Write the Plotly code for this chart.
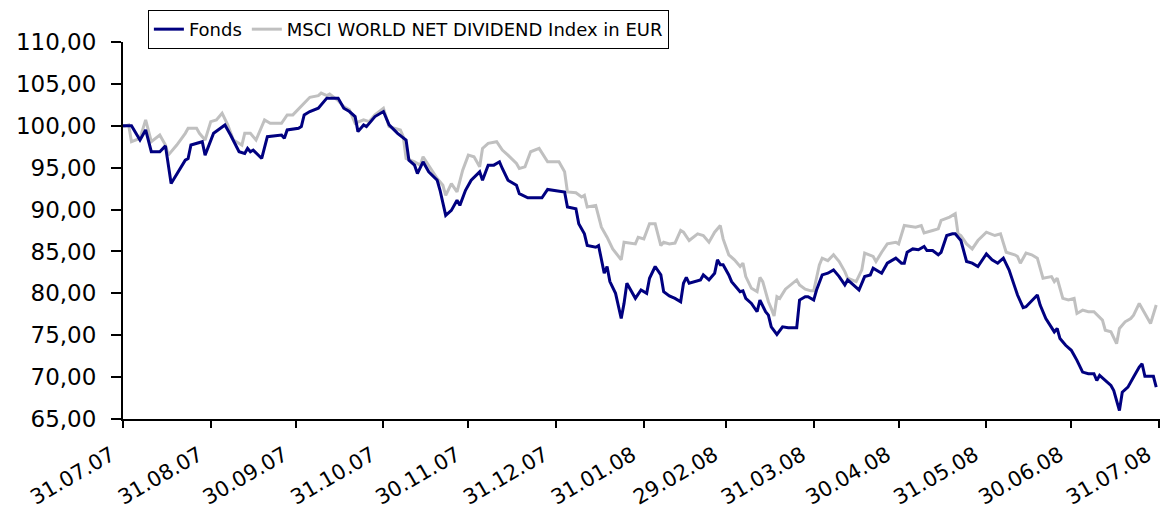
import pandas as pd
import plotly.graph_objects as go

start_date = "2007-07-31"

# Fonds: days after start, value
fonds_days = [0, 3, 6, 8, 10, 13, 15, 17, 22, 23, 24, 26, 28, 29, 32, 36, 38, 41, 43, 44, 45, 46, 49, 51,
              56, 57, 58, 62, 63, 64, 66, 69, 70, 72, 76, 78, 80, 82, 83, 85, 86, 89, 92, 94, 97, 100,
              101, 103, 104, 106, 108, 111, 112, 113, 114, 116, 118, 119, 121, 123, 125, 126, 127, 129,
              131, 133, 134, 136, 139, 140, 143, 148, 150, 154, 156, 157, 160, 161, 163, 164, 167, 168,
              170, 171, 172, 174, 176, 177, 178, 181, 183, 185, 186, 188, 190, 191, 193, 195, 197, 198,
              199, 200, 202, 204, 205, 207, 209, 210, 211, 212, 214, 215, 218, 219, 220, 222, 224, 225,
              227, 228, 229, 231, 233, 235, 238, 239, 241, 242, 244, 245, 247, 249, 251, 253, 255, 256,
              258, 260, 262, 264, 265, 268, 270, 272, 273, 275, 276, 277, 279, 281, 283, 284, 286, 288,
              289, 291, 293, 294, 296, 298, 300, 302, 305, 307, 309, 311, 313, 315, 316, 318, 319, 323,
              324, 326, 328, 329, 330, 331, 333, 335, 336, 337, 339, 341, 343, 344, 345, 347, 349, 350,
              352, 353, 355, 357, 359, 360, 361, 364, 365]
fonds_values = [100.0, 100.0, 98.3, 99.5, 96.9, 96.9, 97.6, 93.1, 95.9, 96.1, 97.7, 97.9, 98.1, 96.5, 99.1,
                100.1, 98.9, 96.9, 96.7, 97.3, 96.9, 97.1, 96.1, 98.7, 98.9, 98.5, 99.5, 99.7, 99.9, 101.3,
                101.7, 102.1, 102.5, 103.3, 103.3, 102.1, 101.7, 101.1, 99.3, 100.1, 99.9, 101.1, 101.7,
                100.1, 99.1, 98.3, 95.9, 95.3, 94.3, 95.7, 94.5, 93.5, 92.3, 90.9, 89.3, 89.9, 91.1, 90.5,
                92.3, 93.5, 94.1, 94.5, 93.5, 95.3, 95.3, 95.7, 94.9, 93.5, 92.9, 91.9, 91.4, 91.4, 92.4,
                92.2, 92.1, 90.3, 90.1, 88.3, 87.1, 85.7, 85.5, 85.7, 82.4, 83.2, 81.4, 80.0, 77.0, 78.8,
                81.2, 79.4, 80.4, 80.0, 81.8, 83.2, 82.2, 80.2, 79.7, 79.4, 79.0, 81.2, 81.9, 81.2, 81.4,
                81.6, 82.2, 81.6, 82.4, 84.0, 83.4, 83.4, 82.2, 81.4, 80.2, 80.3, 79.4, 78.8, 77.8, 79.2,
                77.8, 77.4, 76.0, 75.1, 76.0, 75.9, 75.9, 79.2, 79.6, 79.6, 79.2, 80.4, 82.2, 82.4, 82.8,
                82.0, 81.0, 81.6, 81.0, 80.4, 82.0, 82.2, 83.0, 82.4, 83.6, 84.0, 84.2, 83.6, 83.6, 84.9,
                85.3, 85.2, 85.6, 85.1, 85.1, 84.6, 84.9, 86.9, 87.1, 87.1, 86.3, 83.8, 83.6, 83.2, 84.7,
                84.0, 83.6, 84.2, 82.8, 80.8, 79.8, 78.3, 78.4, 79.8, 78.6, 77.0, 76.0, 75.4, 75.8, 74.6,
                73.8, 73.2, 72.6, 72.0, 70.6, 70.4, 70.4, 69.6, 70.2, 69.6, 69.0, 68.4, 66.0, 68.2, 68.8,
                70.0, 71.2, 71.6, 70.1, 70.1, 68.8]

# MSCI World Net Dividend Index in EUR: days after start, value
msci_days = [0, 2, 3, 6, 8, 10, 13, 15, 16, 19, 22, 23, 26, 27, 29, 31, 33, 35, 37, 39, 42, 43, 45, 47,
             50, 52, 56, 58, 60, 63, 66, 69, 70, 72, 73, 76, 78, 80, 82, 85, 87, 89, 92, 94, 98, 99, 100,
             103, 105, 106, 109, 111, 113, 114, 116, 118, 120, 122, 124, 126, 127, 129, 132, 134, 136, 139,
             140, 142, 144, 147, 150, 154, 156, 157, 160, 162, 163, 164, 167, 169, 171, 173, 176, 177, 181,
             182, 184, 186, 188, 190, 191, 193, 195, 197, 198, 200, 203, 205, 207, 209, 211, 212, 214, 216,
             218, 219, 220, 222, 224, 225, 226, 228, 229, 230, 231, 232, 234, 236, 238, 239, 241, 243, 244,
             246, 247, 249, 251, 253, 255, 256, 259, 261, 262, 265, 266, 268, 270, 273, 274, 276, 279, 280,
             282, 283, 286, 288, 289, 292, 294, 295, 296, 298, 300, 302, 305, 308, 310, 312, 315, 316, 317,
             319, 321, 323, 325, 328, 329, 330, 332, 334, 336, 337, 339, 341, 343, 346, 347, 349, 351, 352,
             354, 356, 357, 359, 361, 363, 365]
msci_values = [99.9, 100.1, 98.1, 98.5, 100.7, 98.1, 98.9, 97.7, 96.5, 97.7, 99.1, 99.7, 99.7, 99.1, 98.3,
               100.5, 100.7, 101.5, 100.1, 98.3, 97.7, 99.1, 99.1, 98.3, 100.7, 100.3, 100.3, 101.3, 101.3,
               102.3, 103.4, 103.6, 103.9, 103.6, 103.8, 103.0, 102.3, 101.9, 100.3, 100.7, 100.5, 101.3,
               102.1, 99.9, 99.5, 98.7, 96.1, 95.7, 95.3, 96.3, 94.7, 93.7, 92.9, 91.7, 93.1, 92.1, 94.7,
               96.5, 96.3, 95.1, 97.3, 97.9, 98.1, 97.1, 96.5, 95.5, 94.9, 95.1, 96.9, 97.3, 95.7, 95.7,
               94.5, 92.1, 92.0, 91.5, 91.7, 90.3, 90.5, 87.9, 86.7, 85.3, 84.0, 86.1, 85.9, 86.7, 86.5,
               88.3, 88.3, 85.7, 86.1, 85.9, 86.0, 87.5, 87.3, 86.3, 87.1, 86.9, 86.1, 87.3, 88.1, 86.5,
               84.6, 84.0, 83.2, 83.6, 82.0, 80.6, 80.2, 81.9, 81.4, 79.0, 78.2, 77.3, 79.6, 79.4, 80.5,
               81.0, 81.6, 81.0, 80.5, 80.3, 80.3, 83.4, 84.2, 83.9, 84.6, 83.8, 82.6, 81.8, 81.4, 82.8,
               84.8, 84.4, 83.8, 84.9, 85.9, 86.1, 85.9, 88.1, 87.9, 87.9, 88.1, 87.2, 87.5, 87.7, 88.7,
               89.1, 89.5, 87.1, 86.9, 85.9, 85.3, 86.3, 87.3, 86.9, 87.1, 84.9, 84.6, 84.4, 83.6, 84.8,
               84.6, 84.2, 81.8, 82.0, 81.4, 81.8, 79.4, 79.2, 79.4, 77.6, 78.0, 77.8, 77.8, 76.8, 75.6,
               75.4, 74.0, 75.8, 76.6, 77.0, 77.4, 78.8, 77.6, 76.4, 78.6]

tick_dates = ["2007-07-31", "2007-08-31", "2007-09-30", "2007-10-31", "2007-11-30", "2007-12-31",
              "2008-01-31", "2008-02-29", "2008-03-31", "2008-04-30", "2008-05-31", "2008-06-30",
              "2008-07-31"]
tick_labels = ["31.07.07", "31.08.07", "30.09.07", "31.10.07", "30.11.07", "31.12.07", "31.01.08",
               "29.02.08", "31.03.08", "30.04.08", "31.05.08", "30.06.08", "31.07.08"]
y_ticks = [65, 70, 75, 80, 85, 90, 95, 100, 105, 110]
y_labels = ["65,00", "70,00", "75,00", "80,00", "85,00", "90,00", "95,00", "100,00", "105,00", "110,00"]

t0 = pd.Timestamp(start_date)
fonds_x = [t0 + pd.Timedelta(days=d) for d in fonds_days]
msci_x = [t0 + pd.Timedelta(days=d) for d in msci_days]

# pad labels with non-breaking spaces so the rotated text sits a little left/below the tick
x_ticktext = [lab + "\u00a0\u00a0" for lab in tick_labels]

fig = go.Figure()
fig.add_trace(go.Scatter(x=msci_x, y=msci_values, mode="lines",
                         name="MSCI WORLD NET DIVIDEND Index in EUR",
                         line=dict(color="#C0C0C0", width=3)))
fig.add_trace(go.Scatter(x=fonds_x, y=fonds_values, mode="lines", name="Fonds",
                         line=dict(color="#000080", width=3)))

fig.update_layout(
    width=1161, height=507,
    margin=dict(l=123, r=1, t=42, b=88, autoexpand=False),
    paper_bgcolor="white", plot_bgcolor="white",
    font=dict(family="DejaVu Sans", color="black"),
    showlegend=True,
    legend=dict(
        orientation="h", x=0.024, y=1.085, xanchor="left", yanchor="top",
        bordercolor="black", borderwidth=1, bgcolor="white",
        font=dict(family="DejaVu Sans", size=18),
        traceorder="reversed", itemwidth=30,
    ),
)
fig.update_xaxes(
    type="date", range=["2007-07-31", "2008-07-31 08:00"],
    tickmode="array", tickvals=tick_dates, ticktext=x_ticktext,
    tickangle=-30, ticks="outside", ticklen=7, tickwidth=2, tickcolor="black",
    showline=True, linecolor="black", linewidth=2, showgrid=False, zeroline=False,
    tickfont=dict(family="DejaVu Sans", size=21), automargin=False,
    ticklabeloverflow="allow",
)
fig.update_yaxes(
    range=[65, 110], tickmode="array", tickvals=y_ticks, ticktext=y_labels,
    ticks="outside", ticklen=10, tickwidth=2, tickcolor="black",
    showline=True, linecolor="black", linewidth=2, showgrid=False, zeroline=False,
    tickfont=dict(family="DejaVu Sans", size=23), automargin=False,
    ticklabelstandoff=10,
)

# remove the default page margin so the 1161x507 figure fills the window exactly
fig.write_html(
    "out.html",
    config={"displayModeBar": False},
    post_script="document.body.style.margin='0px';document.body.style.overflow='hidden';",
)
